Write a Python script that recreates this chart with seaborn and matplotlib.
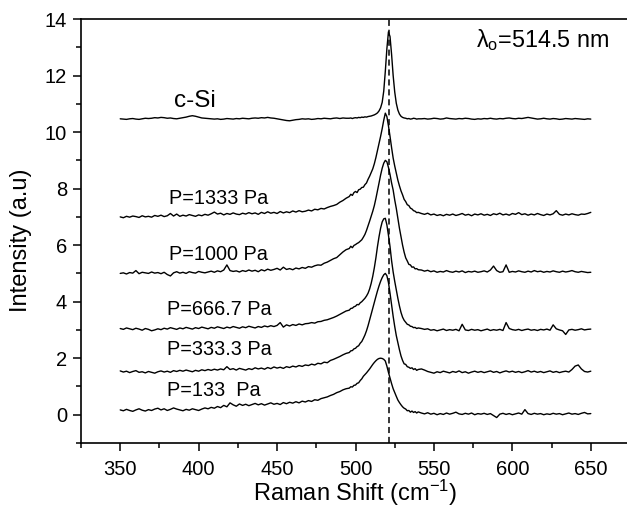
import numpy as np
import pandas as pd
import matplotlib
matplotlib.use("Agg")
import matplotlib.pyplot as plt
import seaborn as sns

# Raman shift sampling (cm^-1): 2 cm^-1 on the wings, 1 cm^-1 across the Si band
shift_left = np.arange(350, 495, 2)
shift_mid = np.arange(496, 541, 1)
shift_right = np.arange(542, 651, 2)

# Intensities (a.u., offset stacked) for each sample
csi_left = [10.47, 10.46, 10.45, 10.47, 10.48, 10.46, 10.45, 10.47, 10.49, 10.48,
            10.49, 10.51, 10.50, 10.52, 10.51, 10.49, 10.50, 10.48, 10.47, 10.49,
            10.51, 10.53, 10.56, 10.58, 10.56, 10.53, 10.50, 10.49, 10.48, 10.47,
            10.46, 10.47, 10.45, 10.46, 10.48, 10.47, 10.46, 10.48, 10.47, 10.49,
            10.48, 10.47, 10.49, 10.50, 10.49, 10.51, 10.50, 10.52, 10.50, 10.49,
            10.47, 10.45, 10.43, 10.41, 10.40, 10.42, 10.44, 10.45, 10.47, 10.46,
            10.47, 10.45, 10.46, 10.48, 10.47, 10.49, 10.48, 10.47, 10.49, 10.50,
            10.48, 10.50, 10.49]
csi_mid = [10.49, 10.50, 10.48, 10.50, 10.51, 10.50, 10.52, 10.51, 10.53, 10.52,
           10.54, 10.53, 10.55, 10.56, 10.57, 10.59, 10.61, 10.64, 10.68, 10.75,
           10.86, 11.05, 11.45, 12.15, 12.95, 13.55, 13.38, 12.75, 12.00, 11.42,
           11.02, 10.78, 10.64, 10.56, 10.52, 10.50, 10.49, 10.47, 10.48, 10.46,
           10.47, 10.49, 10.48, 10.46, 10.47]
csi_right = [10.47, 10.48, 10.46, 10.47, 10.49, 10.48, 10.46, 10.47, 10.50, 10.48,
             10.47, 10.46, 10.48, 10.47, 10.49, 10.48, 10.46, 10.45, 10.47, 10.46,
             10.48, 10.47, 10.49, 10.47, 10.46, 10.48, 10.47, 10.49, 10.50, 10.48,
             10.47, 10.49, 10.48, 10.50, 10.52, 10.50, 10.48, 10.46, 10.47, 10.49,
             10.47, 10.46, 10.48, 10.47, 10.45, 10.46, 10.48, 10.47, 10.46, 10.48,
             10.47, 10.46, 10.45, 10.47, 10.46]

p1333_left = [7.00, 6.97, 7.02, 6.99, 7.03, 7.01, 6.98, 7.04, 7.00, 7.02,
              6.99, 7.05, 7.02, 7.06, 7.01, 7.04, 7.12, 7.03, 7.10, 7.02,
              7.06, 7.03, 7.08, 7.05, 7.02, 7.07, 7.04, 7.09, 7.06, 7.11,
              7.17, 7.10, 7.13, 7.07, 7.12, 7.09, 7.14, 7.10, 7.08, 7.13,
              7.10, 7.15, 7.11, 7.14, 7.09, 7.16, 7.12, 7.18, 7.13, 7.16,
              7.12, 7.19, 7.14, 7.18, 7.15, 7.21, 7.17, 7.22, 7.18, 7.20,
              7.24, 7.21, 7.27, 7.25, 7.30, 7.28, 7.33, 7.37, 7.40, 7.44,
              7.52, 7.58, 7.66]
p1333_mid = [7.72, 7.80, 7.76, 7.86, 7.90, 7.86, 7.96, 7.98, 8.04, 8.05,
             8.14, 8.20, 8.33, 8.44, 8.57, 8.70, 8.88, 9.10, 9.35, 9.60,
             9.85, 10.12, 10.42, 10.67, 10.55, 10.22, 9.85, 9.45, 9.08, 8.80,
             8.55, 8.30, 8.10, 7.92, 7.78, 7.62, 7.54, 7.43, 7.40, 7.31,
             7.28, 7.22, 7.20, 7.15, 7.16]
p1333_right = [7.12, 7.09, 7.13, 7.07, 7.10, 7.05, 7.08, 7.04, 7.09, 7.06,
               7.10, 7.05, 7.08, 7.12, 7.06, 7.09, 7.04, 7.10, 7.07, 7.11,
               7.06, 7.09, 7.05, 7.11, 7.08, 7.13, 7.07, 7.10, 7.06, 7.12,
               7.09, 7.15, 7.08, 7.11, 7.06, 7.10, 7.07, 7.12, 7.08, 7.05,
               7.10, 7.07, 7.11, 7.22, 7.09, 7.06, 7.10, 7.07, 7.11, 7.08,
               7.06, 7.10, 7.09, 7.12, 7.16]

p1000_left = [5.00, 5.02, 4.98, 5.03, 5.01, 5.10, 4.99, 5.04, 5.02, 5.00,
              5.05, 5.01, 5.03, 4.99, 5.04, 4.96, 4.91, 5.02, 5.06, 5.01,
              5.04, 5.00, 5.06, 5.03, 5.01, 5.07, 5.04, 5.02, 5.05, 5.08,
              5.04, 5.09, 5.06, 5.12, 5.30, 5.10, 5.07, 5.09, 5.05, 5.10,
              5.07, 5.12, 5.08, 5.11, 5.06, 5.13, 5.09, 5.15, 5.11, 5.14,
              5.18, 5.12, 5.22, 5.14, 5.17, 5.13, 5.19, 5.16, 5.21, 5.18,
              5.24, 5.22, 5.27, 5.30, 5.29, 5.36, 5.40, 5.46, 5.52, 5.56,
              5.66, 5.76, 5.84]
p1000_mid = [5.88, 5.96, 5.91, 5.99, 6.02, 6.06, 6.09, 6.14, 6.19, 6.28,
             6.38, 6.52, 6.68, 6.85, 7.02, 7.20, 7.40, 7.65, 7.92, 8.20,
             8.48, 8.72, 8.90, 9.00, 8.95, 8.75, 8.50, 8.20, 7.95, 7.60,
             7.30, 6.95, 6.60, 6.30, 6.00, 5.75, 5.55, 5.44, 5.32, 5.30,
             5.22, 5.23, 5.16, 5.17, 5.13]
p1000_right = [5.12, 5.08, 5.11, 5.06, 5.09, 5.04, 5.07, 5.05, 5.10, 5.06,
               5.04, 5.08, 5.05, 5.09, 5.03, 5.07, 5.05, 5.08, 5.04, 5.06,
               5.09, 5.05, 5.12, 5.26, 5.10, 5.04, 5.06, 5.30, 5.04, 5.07,
               5.05, 5.09, 5.06, 5.04, 5.08, 5.05, 5.10, 5.06, 5.08, 5.04,
               5.07, 5.05, 5.09, 5.06, 5.04, 5.08, 5.05, 5.07, 5.10, 5.06,
               5.04, 5.07, 5.05, 5.03, 5.04]

p667_left = [3.05, 3.02, 3.07, 3.04, 3.01, 3.06, 3.03, 2.99, 3.05, 3.02,
             2.97, 3.00, 3.04, 3.01, 3.06, 3.03, 3.08, 3.05, 3.02, 3.07,
             3.04, 3.09, 3.06, 3.03, 3.08, 3.05, 3.10, 3.07, 3.04, 3.09,
             3.06, 3.11, 3.08, 3.05, 3.10, 3.07, 3.12, 3.09, 3.06, 3.11,
             3.08, 3.13, 3.10, 3.07, 3.12, 3.09, 3.14, 3.11, 3.15, 3.12,
             3.16, 3.26, 3.10, 3.18, 3.14, 3.19, 3.16, 3.21, 3.18, 3.22,
             3.23, 3.26, 3.24, 3.29, 3.30, 3.34, 3.36, 3.40, 3.44, 3.49,
             3.55, 3.61, 3.67]
p667_mid = [3.70, 3.76, 3.77, 3.82, 3.84, 3.90, 3.89, 3.96, 4.00, 4.06,
            4.12, 4.20, 4.30, 4.45, 4.65, 4.90, 5.20, 5.55, 5.95, 6.30,
            6.60, 6.82, 6.93, 6.95, 6.72, 6.35, 5.95, 5.45, 5.05, 4.72,
            4.42, 4.12, 3.85, 3.62, 3.45, 3.34, 3.27, 3.20, 3.18, 3.13,
            3.12, 3.08, 3.09, 3.05, 3.07]
p667_right = [3.05, 3.02, 3.04, 2.99, 3.01, 2.97, 3.00, 3.03, 2.98, 3.01,
              2.99, 3.02, 2.97, 3.20, 3.00, 2.98, 3.02, 2.99, 3.01, 2.97,
              3.00, 3.03, 2.98, 3.01, 2.99, 3.02, 2.98, 3.26, 3.05, 3.01,
              2.99, 3.02, 2.98, 3.01, 3.03, 2.99, 3.01, 2.98, 3.02, 3.00,
              3.03, 2.99, 3.18, 3.04, 3.00, 2.97, 2.84, 3.00, 3.02, 2.99,
              3.01, 3.04, 3.00, 3.02, 3.03]

p333_left = [1.55, 1.51, 1.54, 1.49, 1.53, 1.56, 1.50, 1.52, 1.48, 1.53,
             1.50, 1.47, 1.52, 1.55, 1.51, 1.54, 1.50, 1.56, 1.53, 1.57,
             1.54, 1.58, 1.55, 1.52, 1.57, 1.54, 1.59, 1.56, 1.60, 1.57,
             1.61, 1.58, 1.62, 1.59, 1.70, 1.60, 1.63, 1.58, 1.64, 1.61,
             1.58, 1.63, 1.60, 1.66, 1.62, 1.65, 1.61, 1.67, 1.63, 1.69,
             1.65, 1.68, 1.64, 1.70, 1.67, 1.72, 1.69, 1.74, 1.71, 1.76,
             1.74, 1.79, 1.76, 1.82, 1.80, 1.86, 1.84, 1.92, 1.96, 2.01,
             2.06, 2.12, 2.17]
p333_mid = [2.20, 2.26, 2.27, 2.33, 2.35, 2.41, 2.44, 2.53, 2.59, 2.70,
            2.82, 2.97, 3.15, 3.35, 3.56, 3.77, 3.98, 4.18, 4.38, 4.56,
            4.72, 4.85, 4.95, 5.00, 4.92, 4.68, 4.30, 3.88, 3.48, 3.12,
            2.80, 2.55, 2.30, 2.08, 1.92, 1.80, 1.78, 1.70, 1.68, 1.64,
            1.66, 1.60, 1.63, 1.57, 1.60]
p333_right = [1.62, 1.58, 1.53, 1.50, 1.47, 1.52, 1.49, 1.54, 1.51, 1.48,
              1.53, 1.50, 1.55, 1.49, 1.52, 1.47, 1.51, 1.54, 1.50, 1.53,
              1.49, 1.52, 1.55, 1.50, 1.53, 1.48, 1.52, 1.55, 1.51, 1.54,
              1.50, 1.53, 1.49, 1.52, 1.56, 1.51, 1.54, 1.50, 1.53, 1.49,
              1.52, 1.55, 1.50, 1.53, 1.49, 1.52, 1.54, 1.51, 1.60, 1.72,
              1.76, 1.62, 1.53, 1.51, 1.54]

p133_left = [0.17, 0.14, 0.19, 0.15, 0.12, 0.17, 0.21, 0.16, 0.13, 0.18,
             0.15, 0.20, 0.23, 0.17, 0.21, 0.15, 0.19, 0.24, 0.20, 0.17,
             0.14, 0.19, 0.16, 0.21, 0.18, 0.15, 0.20, 0.24, 0.21, 0.26,
             0.23, 0.29, 0.25, 0.33, 0.28, 0.42, 0.35, 0.30, 0.38, 0.33,
             0.37, 0.32, 0.36, 0.40, 0.35, 0.39, 0.34, 0.38, 0.42, 0.37,
             0.40, 0.36, 0.43, 0.39, 0.44, 0.41, 0.46, 0.42, 0.48, 0.45,
             0.50, 0.47, 0.53, 0.51, 0.57, 0.60, 0.63, 0.68, 0.72, 0.78,
             0.82, 0.88, 0.92]
p133_mid = [0.94, 0.99, 0.98, 1.04, 1.05, 1.11, 1.13, 1.21, 1.27, 1.36,
            1.42, 1.48, 1.55, 1.62, 1.70, 1.78, 1.85, 1.91, 1.96, 1.99,
            2.00, 1.99, 1.96, 1.90, 1.72, 1.50, 1.30, 1.10, 0.92, 0.78,
            0.65, 0.52, 0.43, 0.35, 0.28, 0.23, 0.20, 0.14, 0.15, 0.09,
            0.13, 0.08, 0.11, 0.06, 0.10]
p133_right = [0.06, 0.03, 0.07, 0.02, 0.05, 0.00, 0.04, 0.01, 0.06, 0.02,
              0.05, 0.09, 0.03, 0.01, 0.05, 0.02, 0.06, 0.00, 0.04, 0.02,
              0.05, 0.01, 0.04, -0.03, -0.10, 0.02, 0.05, 0.01, 0.04, 0.00,
              0.03, 0.06, 0.02, 0.18, 0.04, 0.01, 0.05, 0.02, 0.04, 0.00,
              0.03, 0.01, 0.05, 0.02, 0.04, 0.00, 0.03, 0.06, 0.02, 0.04,
              0.01, 0.05, 0.08, 0.03, 0.04]

sample_names = ["c-Si", "P=1333 Pa", "P=1000 Pa", "P=666.7 Pa", "P=333.3 Pa", "P=133  Pa"]
# label anchor (x, baseline y) in data units
label_x = [384, 381, 381, 380, 380, 380]
label_y = [10.88, 7.46, 5.48, 3.53, 2.12, 0.65]
label_size = [17.5, 14.3, 14.3, 14.3, 14.3, 14.3]

laser_line = 521.5
laser_text = "λ$_\\mathregular{o}$=514.5 nm"

shift = np.concatenate([shift_left, shift_mid, shift_right])
spectra = [
    csi_left + csi_mid + csi_right,
    p1333_left + p1333_mid + p1333_right,
    p1000_left + p1000_mid + p1000_right,
    p667_left + p667_mid + p667_right,
    p333_left + p333_mid + p333_right,
    p133_left + p133_mid + p133_right,
]
df = pd.concat(
    [pd.DataFrame({"shift": shift, "intensity": vals, "sample": name})
     for name, vals in zip(sample_names, spectra)],
    ignore_index=True,
)

sns.set_theme(style="ticks", rc={
    "axes.edgecolor": "black", "text.color": "black",
    "axes.labelcolor": "black", "xtick.color": "black", "ytick.color": "black",
})
plt.rcParams["font.family"] = ["Liberation Sans", "DejaVu Sans"]
plt.rcParams["mathtext.fontset"] = "custom"
plt.rcParams["mathtext.rm"] = "Liberation Sans"
plt.rcParams["mathtext.default"] = "regular"

fig = plt.figure(figsize=(6.27, 5.12), dpi=100)
ax = fig.add_axes([0.1292, 0.1348, 0.8756, 0.828])

sns.lineplot(data=df, x="shift", y="intensity", units="sample", estimator=None,
             sort=False, color="black", linewidth=1.0, legend=False, ax=ax)
ax.axvline(laser_line, color="black", linewidth=1.1, linestyle=(0, (4, 2.5)))

for name, tx, ty, fs in zip(sample_names, label_x, label_y, label_size):
    ax.text(tx, ty, name, fontsize=fs, ha="left", va="baseline")
ax.text(577, 13.02, laser_text, fontsize=16.8, ha="left", va="baseline")

ax.set_xlim(325, 675)
ax.set_ylim(-1, 14)
ax.set_xticks(np.arange(350, 651, 50))
ax.set_xticks(np.arange(325, 676, 50), minor=True)
ax.set_yticks(np.arange(0, 15, 2))
ax.set_yticks(np.arange(-1, 14, 2), minor=True)
ax.tick_params(which="major", direction="out", length=6, width=1.1,
               labelsize=14.5, top=False, right=False)
ax.tick_params(axis="x", which="major", pad=6)
ax.tick_params(axis="y", which="major", pad=4)
ax.tick_params(which="minor", direction="out", length=3.6, width=1.1,
               top=False, right=False)
for side in ["left", "bottom", "top"]:
    ax.spines[side].set_linewidth(1.2)
ax.spines["right"].set_visible(False)

ax.set_xlabel("Raman Shift (cm$^{-1}$)", fontsize=17)
ax.set_ylabel("Intensity (a.u)", fontsize=17)
ax.xaxis.set_label_coords(0.5, -0.082)
ax.yaxis.set_label_coords(-0.089, 0.478)

fig.savefig("out.png", dpi=100)
